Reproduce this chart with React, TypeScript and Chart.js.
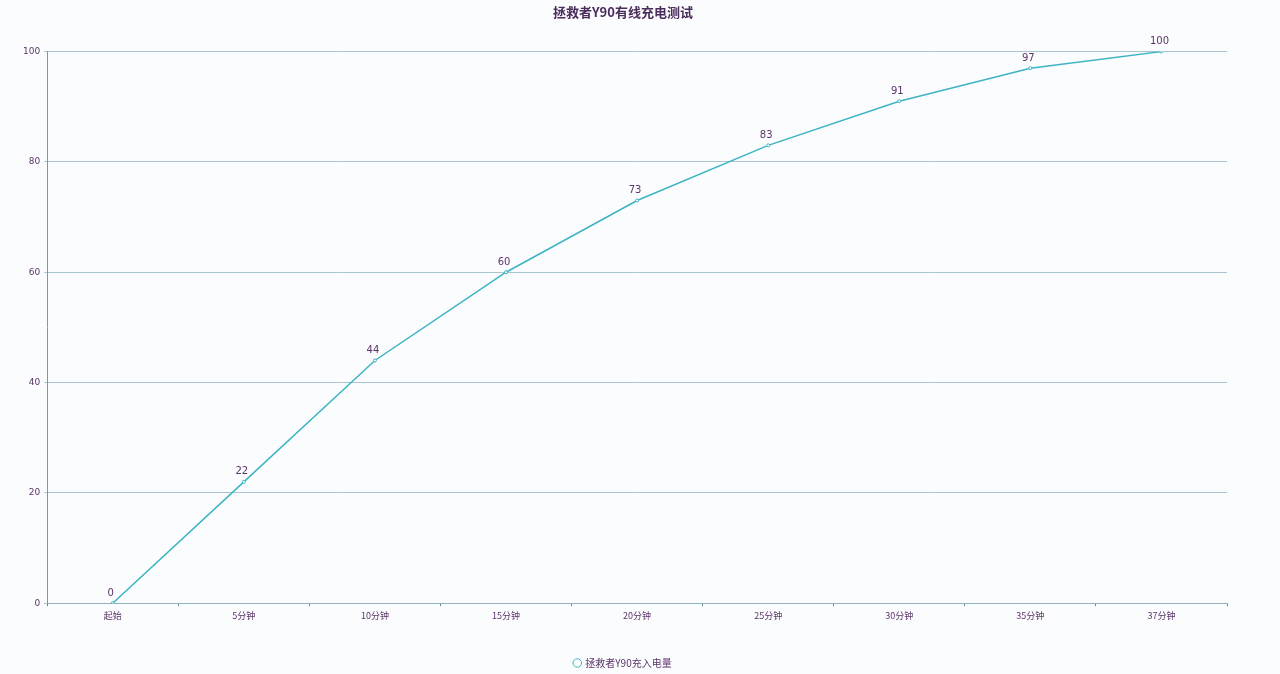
import React, { useEffect, useRef } from 'react';
import Chart from 'chart.js/auto';

const labels = ['起始', '5分钟', '10分钟', '15分钟', '20分钟', '25分钟', '30分钟', '35分钟', '37分钟'];
const charged = [0, 22, 44, 60, 73, 83, 91, 97, 100];
const yTicks = [0, 20, 40, 60, 80, 100];

const textColor = '#5b3469';
const lineColor = '#3cb4c4';

// draws the value above each point
const valueLabels = {
  id: 'valueLabels',
  afterDatasetsDraw(chart: Chart) {
    const ctx = chart.ctx;
    const meta = chart.getDatasetMeta(0);
    ctx.save();
    ctx.fillStyle = textColor;
    ctx.font = '10px "DejaVu Sans", sans-serif';
    ctx.textAlign = 'center';
    ctx.textBaseline = 'bottom';
    meta.data.forEach((pt: any, i: number) => {
      ctx.fillText(String(charged[i]), pt.x - 2, pt.y - 5);
    });
    ctx.restore();
  },
};

const App: React.FC = () => {
  const canvasRef = useRef<HTMLCanvasElement | null>(null);
  const chartInstance = useRef<Chart | null>(null);

  useEffect(() => {
    document.body.style.margin = '0';
    document.body.style.background = '#fbfcfe';
    if (!canvasRef.current) return;
    const ctx = canvasRef.current.getContext('2d');
    if (chartInstance.current) chartInstance.current.destroy();

    chartInstance.current = new Chart(ctx!, {
      type: 'line',
      data: {
        labels,
        datasets: [{
          label: '拯救者Y90充入电量',
          data: charged,
          borderColor: lineColor,
          backgroundColor: 'rgba(0,0,0,0)',
          borderWidth: 1.5,
          pointRadius: 1.5,
          pointBorderWidth: 1,
          pointBorderColor: lineColor,
          pointBackgroundColor: '#ffffff',
          tension: 0,
        }],
      },
      options: {
        responsive: true,
        maintainAspectRatio: false,
        animation: false,
        layout: { padding: { left: 19, right: 53, top: 0, bottom: -4 } },
        plugins: {
          title: {
            display: true,
            text: '拯救者Y90有线充电测试',
            color: '#4b2d5c',
            font: { size: 13, weight: 'bold', family: '"Noto Sans CJK SC", sans-serif' },
            padding: { top: 4, bottom: 32 },
          },
          legend: {
            position: 'bottom',
            labels: {
              usePointStyle: true,
              pointStyle: 'circle',
              boxWidth: 6,
              boxHeight: 6,
              color: textColor,
              font: { size: 10, family: '"Noto Sans CJK SC", sans-serif' },
              padding: 8,
            },
          },
          tooltip: { enabled: false },
        },
        scales: {
          x: {
            offset: true,
            afterFit: (axis: any) => {
              axis.height += 25;
            },
            grid: {
              display: true,
              drawOnChartArea: false,
              drawTicks: true,
              tickLength: 3,
              offset: true,
              color: '#6a8a96',
            },
            border: { display: true, color: '#8fb2bc', width: 1 },
            ticks: {
              color: textColor,
              font: { size: 9, family: '"Noto Sans CJK SC", sans-serif' },
              padding: 4,
            },
          },
          y: {
            min: 0,
            max: 100,
            afterBuildTicks: (axis: any) => {
              axis.ticks = yTicks.map((v) => ({ value: v }));
            },
            grid: {
              color: '#a9c5cf',
              drawTicks: true,
              tickLength: 3,
            },
            border: { display: true, color: '#7f98a4', width: 1 },
            ticks: {
              color: textColor,
              font: { size: 9, family: '"DejaVu Sans", sans-serif' },
              padding: 4,
            },
          },
        },
      },
      plugins: [valueLabels],
    });

    return () => {
      if (chartInstance.current) {
        chartInstance.current.destroy();
        chartInstance.current = null;
      }
    };
  }, []);

  return (
    <div style={{ width: 1280, height: 674, background: '#fbfcfe' }}>
      <canvas ref={canvasRef}></canvas>
    </div>
  );
};

export default App;
